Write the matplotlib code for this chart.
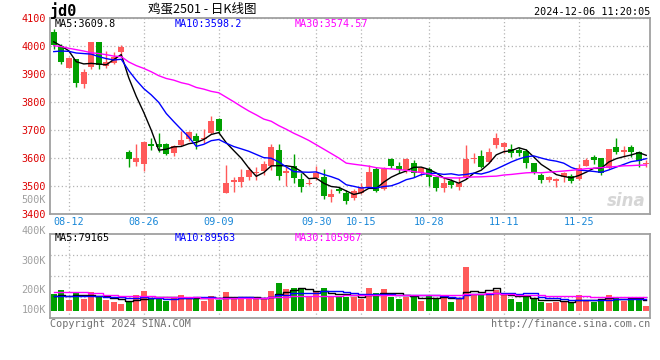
import numpy as np
import pandas as pd
import matplotlib
matplotlib.use('Agg')
import matplotlib.pyplot as plt

plt.rcParams['font.family'] = ['DejaVu Sans Mono']

# ---- data ----
holidays = ['2024-09-16', '2024-09-17', '2024-10-01', '2024-10-02', '2024-10-03',
            '2024-10-04', '2024-10-07']
dates = pd.bdate_range('2024-08-08', '2024-12-06')
dates = dates[~dates.isin(pd.to_datetime(holidays))]

opens = [4051, 4000, 3923, 3952, 3865, 3926, 4013, 3930, 3940, 3980,
         3621, 3587, 3580, 3650, 3650, 3650, 3619, 3646, 3667, 3679,
         3667, 3690, 3739, 3476, 3516, 3516, 3531, 3548, 3555, 3571,
         3629, 3545, 3571, 3525, 3506, 3530, 3531, 3462, 3488, 3476,
         3456, 3474, 3494, 3560, 3488, 3598, 3571, 3557, 3583, 3545,
         3560, 3531, 3492, 3519, 3498, 3527, 3595, 3607, 3585, 3646,
         3640, 3631, 3628, 3626, 3581, 3539, 3521, 3518, 3531, 3536,
         3524, 3573, 3602, 3599, 3563, 3638, 3620, 3638, 3620, 3577]
highs = [4061, 4007, 3960, 3955, 3917, 4013, 4013, 3982, 3978, 4003,
         3629, 3650, 3660, 3673, 3689, 3652, 3648, 3698, 3697, 3689,
         3702, 3750, 3742, 3575, 3533, 3560, 3569, 3569, 3590, 3650,
         3650, 3569, 3614, 3548, 3524, 3571, 3560, 3488, 3498, 3486,
         3488, 3512, 3574, 3567, 3569, 3600, 3586, 3600, 3593, 3569,
         3569, 3535, 3533, 3524, 3531, 3646, 3617, 3629, 3635, 3688,
         3658, 3650, 3638, 3631, 3583, 3545, 3536, 3527, 3551, 3543,
         3579, 3599, 3611, 3601, 3631, 3670, 3643, 3646, 3626, 3593]
lows = [3988, 3936, 3920, 3852, 3851, 3917, 3919, 3922, 3934, 3964,
        3569, 3573, 3555, 3629, 3623, 3610, 3607, 3642, 3662, 3631,
        3655, 3686, 3688, 3476, 3479, 3498, 3521, 3521, 3539, 3557,
        3521, 3500, 3510, 3480, 3504, 3521, 3455, 3444, 3476, 3436,
        3450, 3472, 3492, 3480, 3486, 3565, 3545, 3548, 3531, 3536,
        3500, 3483, 3480, 3494, 3486, 3525, 3581, 3563, 3583, 3634,
        3619, 3605, 3607, 3563, 3543, 3510, 3515, 3498, 3515, 3510,
        3521, 3571, 3579, 3539, 3560, 3614, 3605, 3605, 3569, 3569]
closes = [4003, 3944, 3957, 3869, 3907, 4013, 3932, 3943, 3962, 3997,
          3598, 3601, 3657, 3644, 3639, 3616, 3643, 3664, 3693, 3661,
          3670, 3732, 3698, 3512, 3521, 3533, 3557, 3550, 3579, 3640,
          3537, 3555, 3530, 3498, 3512, 3545, 3464, 3472, 3483, 3448,
          3482, 3495, 3550, 3482, 3560, 3571, 3557, 3598, 3548, 3563,
          3531, 3492, 3512, 3504, 3512, 3598, 3601, 3567, 3620, 3670,
          3655, 3619, 3619, 3581, 3545, 3521, 3533, 3524, 3548, 3519,
          3563, 3593, 3593, 3548, 3631, 3623, 3629, 3623, 3590, 3583]
volumes = [129, 160, 83, 135, 91, 145, 116, 83, 67, 52,
           75, 119, 153, 91, 96, 78, 96, 122, 101, 96,
           78, 114, 83, 145, 91, 104, 96, 91, 91, 155,
           215, 168, 176, 166, 104, 142, 176, 104, 104, 109,
           109, 91, 176, 137, 168, 109, 91, 109, 109, 78,
           122, 91, 122, 70, 91, 339, 122, 119, 119, 163,
           122, 91, 70, 109, 91, 70, 62, 70, 78, 70,
           122, 83, 70, 91, 122, 104, 78, 91, 91, 36]  # thousand lots

# moving averages at the start of the window (history before 08-08 not shown)
ma5_head = [4015, 4000, 3983, 3944]
ma10_head = [3980, 3982, 3981, 3975, 3973, 3971, 3962, 3955, 3950]
ma30_head = [4001, 3998, 3992, 3987, 3982, 3976, 3973, 3969, 3964, 3962,
             3943, 3930, 3920, 3908, 3894, 3884, 3878, 3869, 3863, 3852,
             3846, 3838, 3833, 3817, 3801, 3784, 3768, 3754, 3739]
vma5_head = [112, 118, 114, 118]
vma10_head = [114, 114, 114, 113, 112, 112, 111, 108, 105]
vma30_head = [145, 145, 145, 145, 145, 135, 135, 124, 124, 116,
              116, 116, 116, 116, 104, 104, 104, 104, 104, 104,
              96, 96, 96, 96, 98, 98, 98, 98, 98]

tick_labels = ['08-12', '08-26', '09-09', '09-30', '10-15', '10-28', '11-11', '11-25']
price_ticks = [3400, 3500, 3600, 3700, 3800, 3900, 4000, 4100]
vol_labels = ['500K', '400K', '300K', '200K', '100K']


def moving(values, n, head):
    s = pd.Series(values, dtype=float).rolling(n).mean()
    s.iloc[:len(head)] = head
    return s.values


ma5 = moving(closes, 5, ma5_head)
ma10 = moving(closes, 10, ma10_head)
ma30 = moving(closes, 30, ma30_head)
vma5 = moving(volumes, 5, vma5_head)
vma10 = moving(volumes, 10, vma10_head)
vma30 = moving(volumes, 30, vma30_head)

# ---- drawing ----
RED = '#ff5a5a'
GREEN = '#00a000'
GRID = '#b4b4b4'
FRAME = '#a0a0a0'
W, H = 660, 360


def fx(px):
    return px / W


def fy(py):
    return 1 - py / H


x = np.arange(len(closes))
o = np.array(opens)
c = np.array(closes)
colors = np.where(c >= o, RED, GREEN)
mmdd = list(dates.strftime('%m-%d'))
tick_pos = [mmdd.index(t) for t in tick_labels]

fig = plt.figure(figsize=(6.6, 3.6), dpi=100)
ax = fig.add_axes([fx(50), fy(214), fx(600), 196 / H])
axv = fig.add_axes([fx(50), fy(318), fx(600), 84 / H])

# price panel
ax.vlines(x, lows, highs, colors=colors, lw=1.0, zorder=3)
body_h = np.maximum(np.abs(c - o), 1.5)
ax.bar(x, body_h, bottom=np.minimum(o, c), width=0.74, color=colors, lw=0, zorder=3)
ax.plot(x, ma5, color='black', lw=1.0, zorder=4)
ax.plot(x, ma10, color='#0000ff', lw=1.0, zorder=4)
ax.plot(x, ma30, color='#ff00ff', lw=1.0, zorder=4)
ax.set_xlim(-0.5, len(x) - 0.5)
ax.set_ylim(3400, 4100)
ax.set_yticks(price_ticks)
ax.set_xticks(tick_pos)
ax.set_xticklabels(tick_labels)
ax.tick_params(axis='y', length=0, labelcolor='#dd0000', labelsize=7.3, pad=3)
ax.tick_params(axis='x', length=0, labelcolor='#1a88d8', labelsize=7.3, pad=2)
ax.grid(True, ls=(0, (1, 2)), color=GRID, lw=0.9)
ax.set_axisbelow(True)

# volume panel
axv.bar(x, volumes, width=0.78, color=colors, lw=0, zorder=3)
axv.plot(x, vma5, color='black', lw=1.0, drawstyle='steps-mid', zorder=4)
axv.plot(x, vma10, color='#0000ff', lw=1.0, drawstyle='steps-mid', zorder=4)
axv.plot(x, vma30, color='#ff00ff', lw=1.0, drawstyle='steps-mid', zorder=4)
axv.set_xlim(-0.5, len(x) - 0.5)
vlo, vhi = -57, 594
axv.set_ylim(vlo, vhi)
axv.set_yticks([vlo + f * (vhi - vlo) for f in (0.25, 0.5, 0.75)])
axv.set_yticklabels([])
axv.set_xticks(tick_pos)
axv.set_xticklabels([])
axv.tick_params(length=0)
axv.grid(True, ls=(0, (1, 2)), color=GRID, lw=0.9)
axv.set_axisbelow(True)

for a in (ax, axv):
    for s in a.spines.values():
        s.set_color(FRAME)
        s.set_linewidth(1.3)

# volume axis labels (sina places them off the grid)
for lab, py in zip(vol_labels, [200, 231, 261, 290, 310]):
    fig.text(fx(46), fy(py), lab, ha='right', va='center', fontsize=7.3, color='#a0a0a0')

# MA legends
fig.text(fx(55), fy(24), 'MA5:%.1f' % 3609.8, va='center', fontsize=7.3, color='black')
fig.text(fx(175), fy(24), 'MA10:%.1f' % 3598.2, va='center', fontsize=7.3, color='#0000ff')
fig.text(fx(295), fy(24), 'MA30:%.2f' % 3574.57, va='center', fontsize=7.3, color='#ff00ff')
fig.text(fx(55), fy(238), 'MA5:79165', va='center', fontsize=7.3, color='black')
fig.text(fx(175), fy(238), 'MA10:89563', va='center', fontsize=7.3, color='#0000ff')
fig.text(fx(295), fy(238), 'MA30:105967', va='center', fontsize=7.3, color='#ff00ff')

# header
fig.text(fx(50), fy(11), 'jd0', va='center', fontsize=11, fontweight='bold', color='black')
fig.text(fx(202), fy(9), '鸡蛋2501 - 日K线图', ha='center', va='center', fontsize=9,
         family=['Noto Sans CJK SC', 'DejaVu Sans'], color='black')
fig.text(fx(650), fy(12), '2024-12-06 11:20:05', ha='right', va='center', fontsize=7.3,
         color='black')

# footer
fig.text(fx(50), fy(324), 'Copyright 2024 SINA.COM', va='center', fontsize=7.3, color='#707070')
fig.text(fx(650), fy(324), 'http://finance.sina.com.cn', ha='right', va='center',
         fontsize=7.3, color='#707070')

# watermark
fig.text(fx(646), fy(201), 'sina', ha='right', va='center', fontsize=12, fontweight='bold',
         style='italic', color='#d6d6d6', family='DejaVu Sans')

fig.savefig('out.png', dpi=100)
